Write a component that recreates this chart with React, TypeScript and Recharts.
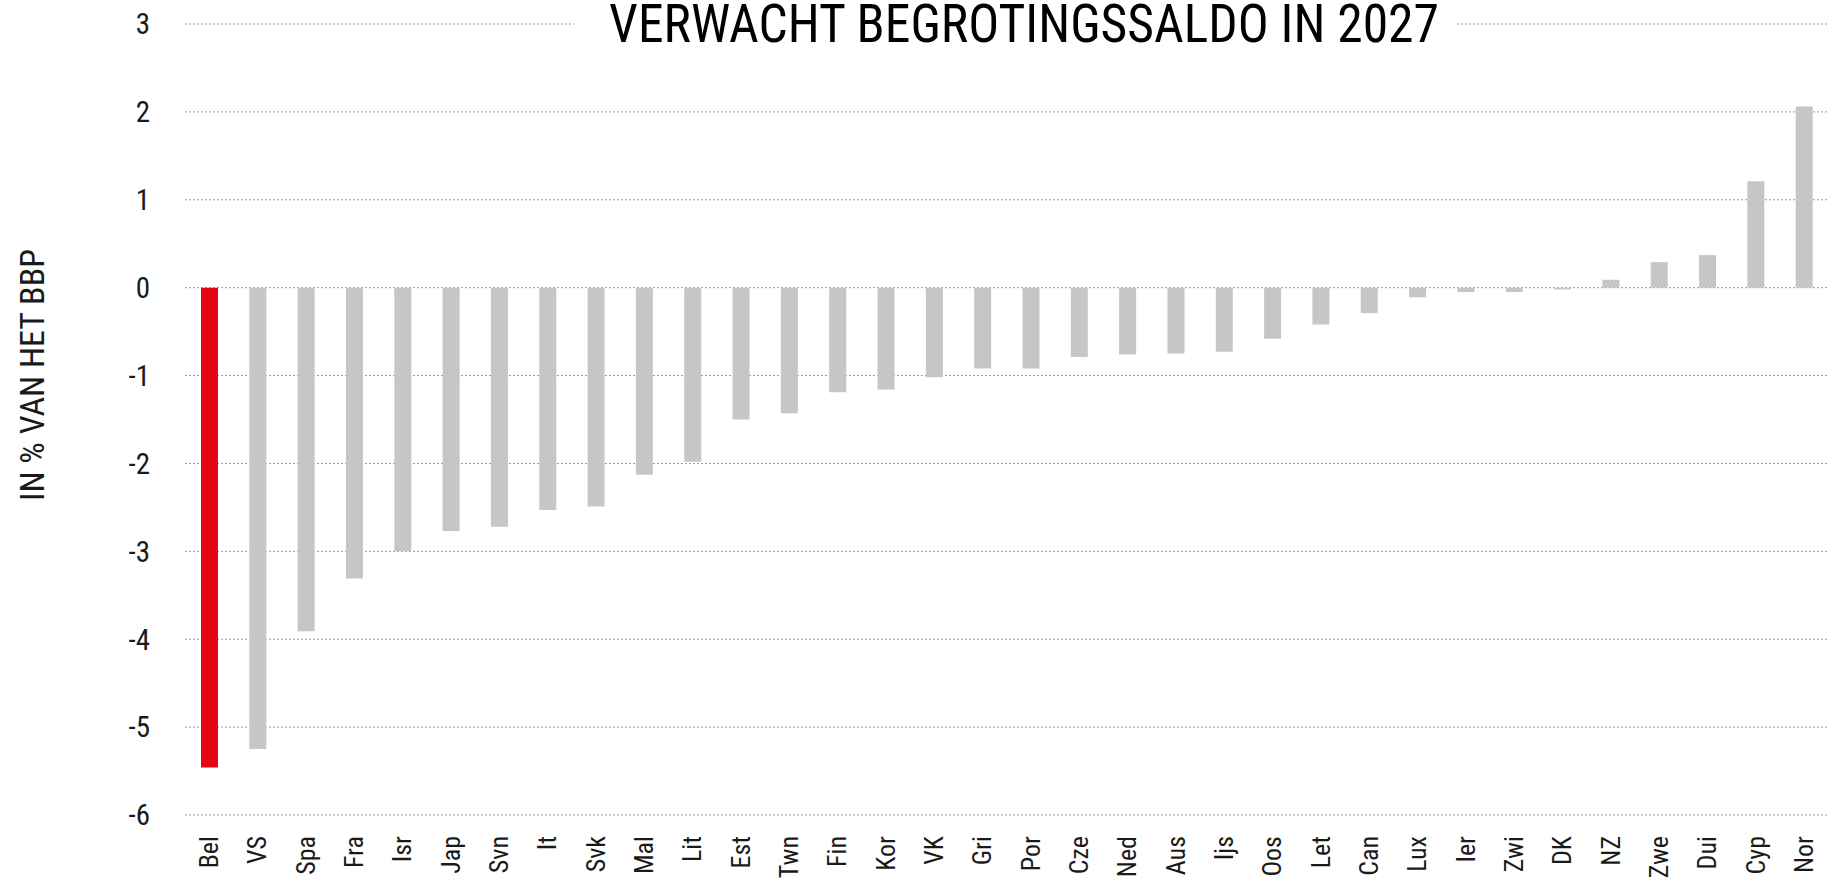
import React from 'react';
import { BarChart, Bar, XAxis, YAxis, CartesianGrid, Cell, Label } from 'recharts';

const countries = ['Bel', 'VS', 'Spa', 'Fra', 'Isr', 'Jap', 'Svn', 'It', 'Svk', 'Mal', 'Lit', 'Est', 'Twn', 'Fin', 'Kor', 'VK', 'Gri', 'Por', 'Cze', 'Ned', 'Aus', 'Ijs', 'Oos', 'Let', 'Can', 'Lux', 'Ier', 'Zwi', 'DK', 'NZ', 'Zwe', 'Dui', 'Cyp', 'Nor'];
const balance = [-5.46, -5.25, -3.91, -3.31, -3.0, -2.77, -2.72, -2.53, -2.49, -2.13, -1.98, -1.5, -1.43, -1.19, -1.16, -1.02, -0.92, -0.92, -0.79, -0.76, -0.75, -0.73, -0.58, -0.42, -0.29, -0.11, -0.05, -0.05, -0.02, 0.09, 0.29, 0.37, 1.21, 2.06];
const yTicks = [-6, -5, -4, -3, -2, -1, 0, 1, 2, 3];
const highlighted = 'Bel';
const title = 'VERWACHT BEGROTINGSSALDO IN 2027';
const yLabel = 'IN % VAN HET BBP';

const data = countries.map((c, i) => ({ country: c, value: balance[i] }));

const FONT = '"Liberation Sans Narrow", "Arial Narrow", "Roboto Condensed", "DejaVu Sans Condensed", "Liberation Sans", sans-serif';
const RED = '#e30613';
const GRAY = '#c6c6c6';
const INK = '#1a1a1a';

const XTick = (props: any) => {
  const { x, y, payload } = props;
  return (
    <text
      x={x}
      y={y}
      transform={`rotate(-90, ${x}, ${y})`}
      textAnchor="end"
      dominantBaseline="central"
      fontFamily={FONT}
      fontSize={26}
      fill={INK}
    >
      {payload.value}
    </text>
  );
};

const YLabel = (props: any) => {
  const vb = props.viewBox || { x: 0, y: 0 };
  const x = vb.x + 32;
  const y = vb.y + 351;
  return (
    <text
      x={x}
      y={y}
      transform={`rotate(-90, ${x}, ${y})`}
      textAnchor="middle"
      dominantBaseline="central"
      fontFamily={FONT}
      fontSize={34}
      fill={INK}
    >
      {yLabel}
    </text>
  );
};

export default function App() {
  return (
    <div style={{ position: 'absolute', left: 0, top: 0, width: 1828, height: 878, background: '#fff' }}>
      <BarChart
        width={1828}
        height={878}
        data={data}
        margin={{ top: 24, right: 0, bottom: 0, left: 0 }}
        barCategoryGap={0}
      >
        <CartesianGrid vertical={false} stroke="#999" strokeDasharray="2 2" />
        <XAxis
          dataKey="country"
          interval={0}
          height={63}
          tickSize={0}
          tickMargin={21}
          axisLine={false}
          tickLine={false}
          tick={<XTick />}
        />
        <YAxis
          width={185}
          domain={[-6, 3]}
          ticks={yTicks}
          interval={0}
          tickSize={0}
          tickMargin={35}
          axisLine={false}
          tickLine={false}
          tick={{ fontFamily: FONT, fontSize: 29, fill: INK }}
        >
          <Label content={<YLabel />} />
        </YAxis>
        <Bar dataKey="value" barSize={17} isAnimationActive={false}>
          {data.map((d) => (
            <Cell key={d.country} fill={d.country === highlighted ? RED : GRAY} />
          ))}
        </Bar>
      </BarChart>
      <svg width={1828} height={60} style={{ position: 'absolute', left: 0, top: 0 }}>
        <rect x={574} y={0} width={883} height={52} fill="#fff" />
        <text
          x={609}
          y={41.5}
          textLength={830}
          lengthAdjust="spacingAndGlyphs"
          fontFamily={FONT}
          fontSize={53}
          fill="#000"
        >
          {title}
        </text>
      </svg>
    </div>
  );
}
